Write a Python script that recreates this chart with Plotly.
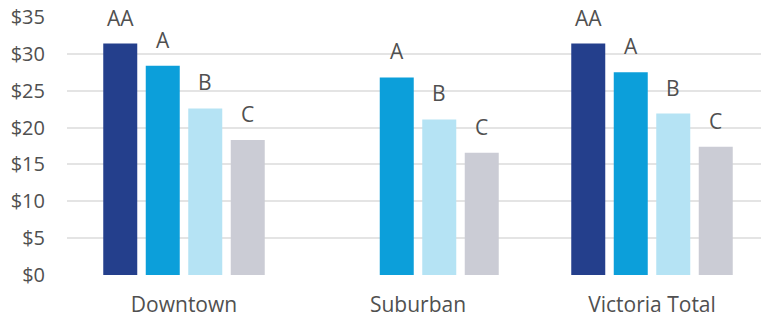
import plotly.graph_objects as go

categories = ["Downtown", "Suburban", "Victoria Total"]
classes = ["AA", "A", "B", "C"]
values_AA = [31.4, None, 31.4]
values_A = [28.4, 26.8, 27.5]
values_B = [22.6, 21.1, 21.9]
values_C = [18.3, 16.6, 17.4]
colors = ["#243F8C", "#0C9FDA", "#B5E3F4", "#CBCCD5"]
tick_vals = [0, 5, 10, 15, 20, 25, 30, 35]
tick_text = ["$0", "$5", "$10", "$15", "$20", "$25", "$30", "$35"]

series = [values_AA, values_A, values_B, values_C]
FONT = "Open Sans"
TXT = "#505050"

fig = go.Figure()
for name, vals, col in zip(classes, series, colors):
    fig.add_trace(go.Bar(x=categories, y=vals, name=name, marker_color=col,
                         marker_line_width=0))

bargap = 0.2735
slot = (1 - bargap) / len(classes)
annotations = []
for i, (name, vals) in enumerate(zip(classes, series)):
    for j, v in enumerate(vals):
        if v is None:
            continue
        annotations.append(dict(x=j + (i - 1.5) * slot, y=v, xref="x", yref="y",
                                text=name, showarrow=False, yanchor="bottom",
                                yshift=10, font=dict(family=FONT, size=21, color=TXT)))

fig.update_layout(
    width=761, height=320,
    margin=dict(l=67, r=0, t=17, b=45),
    paper_bgcolor="white", plot_bgcolor="white",
    barmode="group", bargap=bargap, bargroupgap=0.2,
    showlegend=False,
    annotations=annotations,
    font=dict(family=FONT, color=TXT),
)
fig.update_xaxes(range=[-0.5, -0.5 + 694 / 234], showgrid=False, zeroline=False,
                 showline=False, tickfont=dict(family=FONT, size=21, color=TXT),
                 ticklabelstandoff=15)
fig.update_yaxes(range=[0, 35], tickvals=tick_vals, ticktext=tick_text,
                 showgrid=True, gridcolor="#E4E4E4", gridwidth=1.5, zeroline=False,
                 tickfont=dict(family=FONT, size=20, color=TXT), ticklabelstandoff=21)

fig.write_html("out.html")
